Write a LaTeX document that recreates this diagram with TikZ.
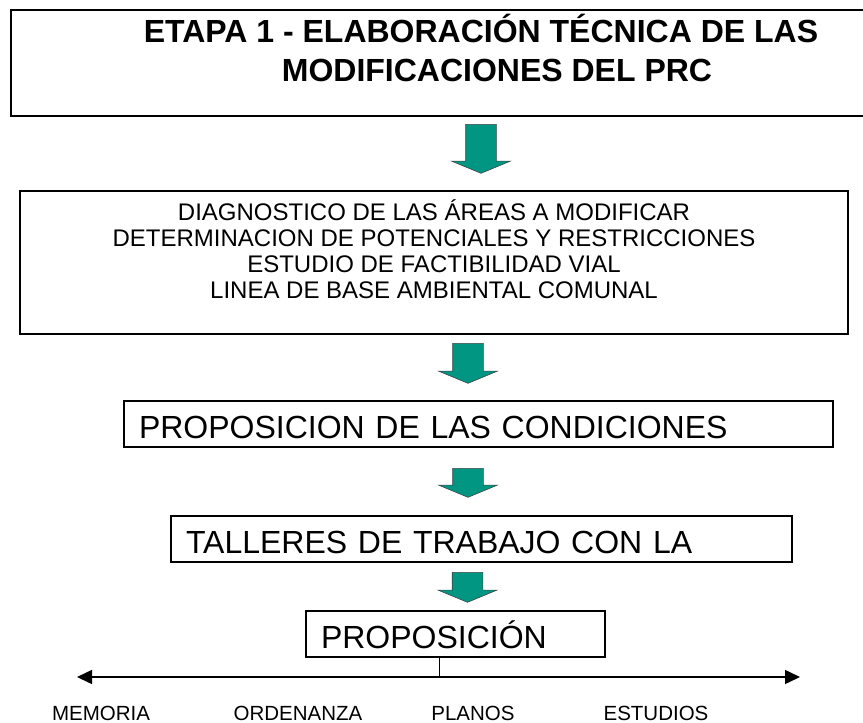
\documentclass[tikz,border=0pt]{standalone}
\usepackage{fontspec}
\setmainfont{Liberation Sans}
\usetikzlibrary{arrows.meta, shapes.arrows}
\definecolor{flowteal}{RGB}{0,150,130}
\definecolor{flowedge}{RGB}{60,70,70}

\begin{document}
\begin{tikzpicture}[
    x=1pt, y=-1pt,
    every node/.style={font=\fontsize{32}{37}\selectfont},
    box/.style={draw, inner sep=0pt, align=center},
    stagebox/.style={box, line width=2.4pt, minimum width=940pt, minimum height=106pt,
                     font=\fontsize{32}{39}\selectfont\bfseries},
    surveybox/.style={box, line width=1.8pt, minimum width=828pt, minimum height=143pt,
                      font=\fontsize{24}{26}\selectfont},
    stepbox/.style={draw, line width=1.2pt, minimum height=46pt, inner xsep=15pt, inner ysep=0pt,
                    text height=28pt, text depth=0pt, align=left},
    flowarrow/.style={single arrow, draw=flowedge, fill=flowteal, line width=0.6pt,
                      rotate=-90, inner xsep=0pt, inner ysep=15pt,
                      single arrow head extend=14pt, single arrow tip angle=135, anchor=tail},
    spread/.style={{Triangle[length=15pt,width=14pt]}-{Triangle[length=15pt,width=14pt]}, line width=1.5pt},
    stem/.style={line width=1pt},
    outlabel/.style={font=\fontsize{20.5}{24}\selectfont, anchor=base},
]
\useasboundingbox (0,0) rectangle (863,723);
\clip (0,0) rectangle (863,723);

%% ── Stage title ──────────────────────────────────────────────────────────────
\node[stagebox] (stage) at (481,63)
  {ETAPA 1 - ELABORACIÓN TÉCNICA DE LAS\\
   \hspace*{32pt}MODIFICACIONES DEL PRC\\[-8pt]\mbox{}};

%% ── Technical studies ────────────────────────────────────────────────────────
\node[surveybox] (survey) at (434,262.5)
  {DIAGNOSTICO DE LAS ÁREAS A MODIFICAR\\
   DETERMINACION DE POTENCIALES Y RESTRICCIONES\\
   ESTUDIO DE FACTIBILIDAD VIAL\\
   LINEA DE BASE AMBIENTAL COMUNAL\\\mbox{}};

%% ── Steps ────────────────────────────────────────────────────────────────────
\node[stepbox, text width=679pt] (terms) at (478.5,424) {PROPOSICION DE LAS CONDICIONES};
\node[stepbox, text width=591pt] (workshop) at (481.5,539) {TALLERES DE TRABAJO CON LA};
\node[stepbox, text width=269pt] (proposal) at (455.5,634) {PROPOSICIÓN};

%% ── Block arrows ─────────────────────────────────────────────────────────────
\node[flowarrow, minimum height=49pt] (flow1) at (481,124) {};
\node[flowarrow, minimum height=40pt] (flow2) at (468,343) {};
\node[flowarrow, minimum height=29pt] (flow3) at (468,468) {};
\node[flowarrow, minimum height=30pt] (flow4) at (467.5,572) {};

%% ── Deliverables ─────────────────────────────────────────────────────────────
\coordinate (axl) at (77,677);
\coordinate (axr) at (800,677);
\draw[spread] (axl) -- (axr);
\draw[stem] ([xshift=-16.5pt]proposal.south) -- ([xshift=-16.5pt]proposal.south |- axl);

\node[outlabel] (memoria) at (101,720) {MEMORIA};
\node[outlabel] (ordenanza) at (298,720) {ORDENANZA};
\node[outlabel] (planos) at (473,720) {PLANOS};
\node[outlabel] (estudios) at (656,720) {ESTUDIOS};

\end{tikzpicture}
\end{document}
